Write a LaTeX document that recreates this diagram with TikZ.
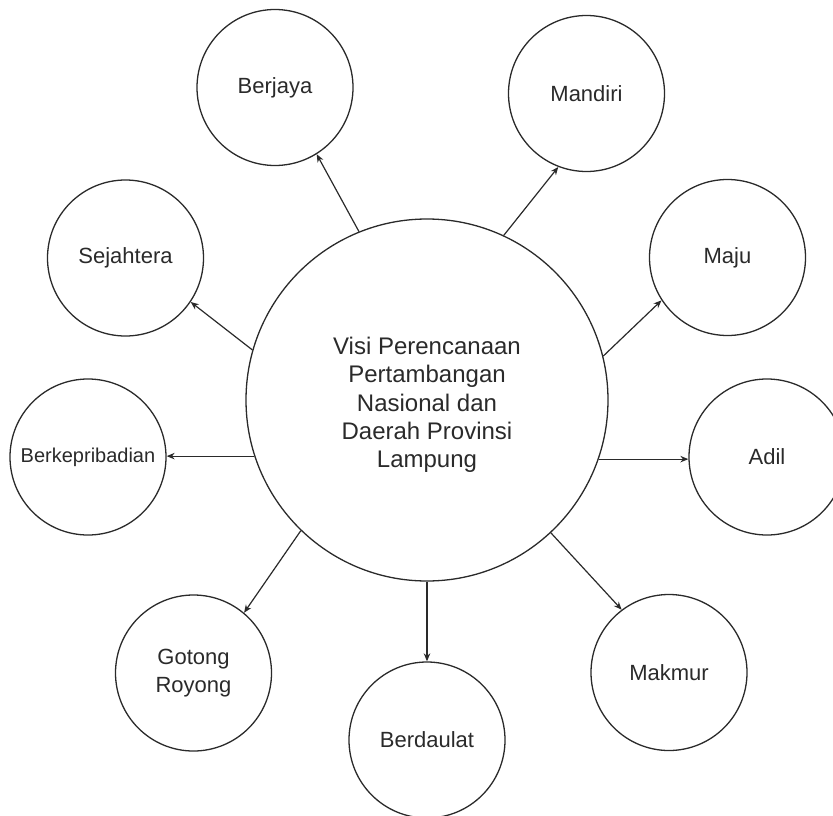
\documentclass[tikz,border=0pt]{standalone}
\usepackage{fontspec}
\setmainfont{Liberation Sans}
\usetikzlibrary{arrows.meta}
\definecolor{ink}{HTML}{2A2A2A}
\begin{document}
\begin{tikzpicture}[x=1pt,y=1pt,
  bubble/.style={circle,draw=ink,line width=1.3pt,minimum size=156pt,inner sep=0pt,
    text=ink,font=\fontsize{22}{27.5}\selectfont,align=center},
  hub/.style={bubble,minimum size=362pt,font=\fontsize{24}{28.3}\selectfont},
  link/.style={draw=ink,line width=1.2pt,-{Stealth[length=8pt,width=6.5pt]}}]
\useasboundingbox (0,0) rectangle (833,-816);
\clip (0,0) rectangle (833,-816);

% central vision
\node[hub] (c) at (427,-400) {\rule{0pt}{27pt}Visi Perencanaan\\Pertambangan\\Nasional dan\\Daerah Provinsi\\Lampung};

% surrounding values
\node[bubble] (bj) at (275,-87.5) {Berjaya};
\node[bubble] (md) at (586.5,-93.5) {Mandiri};
\node[bubble] (sj) at (125.5,-258) {Sejahtera};
\node[bubble] (mj) at (727.5,-257.5) {Maju};
\node[bubble,font=\fontsize{20}{24}\selectfont] (bk) at (88,-457) {Berkepribadian};
\node[bubble] (ad) at (767,-457) {Adil};
\node[bubble] (gr) at (193.5,-673) {Gotong\\Royong};
\node[bubble] (bd) at (427,-740) {Berdaulat};
\node[bubble] (mk) at (669,-672.5) {Makmur};

% connectors
\draw[link] (c.112.1) -- (bj.302);
\draw[link] (c.65.3) -- (md.249);
\draw[link] (c.164.7) -- (sj.326.9);
\draw[link] (c.14.4) -- (mj.213.6);
\draw[link] (c.198.5) -- (c.198.5 -| bk.east);
\draw[link] (c.341.6) -- (c.341.6 -| ad.west);
\draw[link] (c.226.3) -- (gr.50.9);
\draw[link] (c.south) -- (bd.north);
\draw[link] (c.313.9) -- (mk.127.7);
\end{tikzpicture}
\end{document}
